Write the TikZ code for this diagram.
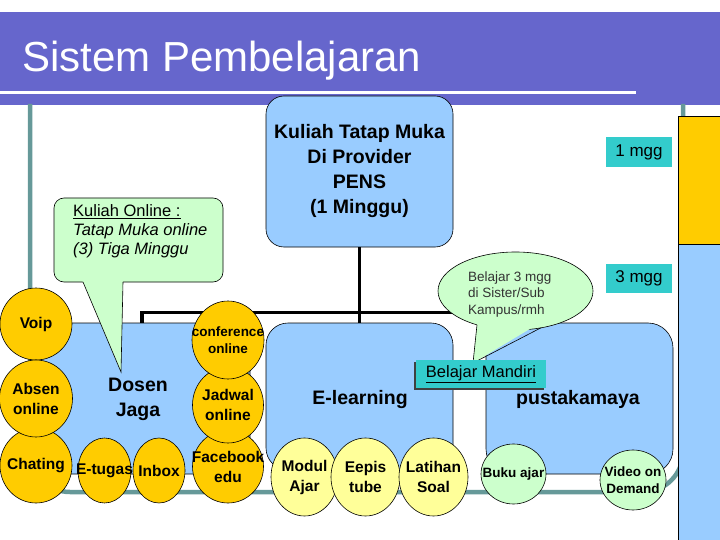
\documentclass[tikz,border=0pt]{standalone}
\usepackage{fontspec}
\setmainfont{Liberation Sans}
\usetikzlibrary{shapes.geometric}
\definecolor{bandc}{HTML}{6666CC}
\definecolor{framec}{HTML}{669999}
\definecolor{lblue}{HTML}{99CCFF}
\definecolor{orng}{HTML}{FFCC00}
\definecolor{lgreen}{HTML}{CCFFCC}
\definecolor{lyel}{HTML}{FFFF99}
\definecolor{tealc}{HTML}{33CCCC}
\tikzset{
  conn/.style={line width=3.4pt, black},
  panelbox/.style={draw=black, line width=0.6pt, fill=lblue, rounded corners=22pt, inner sep=0},
  bub/.style={ellipse, draw=black, line width=0.6pt, inner sep=0},
  bigtxt/.style={font=\bfseries\fontsize{19.5}{25}\selectfont, align=center, inner sep=0},
  midtxt/.style={font=\bfseries\fontsize{15.5}{20}\selectfont, align=center, inner sep=0},
  smalltxt/.style={font=\bfseries\fontsize{13.5}{16.5}\selectfont, align=center, inner sep=0},
  tagbox/.style={fill=tealc, inner sep=0, font=\fontsize{17}{17}\selectfont}
}
\newcommand\mybub[7]{%
  \node[bub, fill=#5, minimum width=#3pt, minimum height=#4pt] (#1) at (#2) {};
  \node[#6] (#1t) at (#1.center) {#7};}
\begin{document}
\begin{tikzpicture}[x=1pt,y=-1pt]
\useasboundingbox (0,0) rectangle (720,540);
\fill[white] (0,0) rectangle (720,540);
% title band
\fill[bandc] (0,12) rectangle (720,105);
\draw[white, line width=3pt] (0,93) -- (636,93);
\node[anchor=base west, inner sep=0, text=white, font=\fontsize{42}{42}\selectfont] (title) at (22,72) {Sistem Pembelajaran};
% slide frame
\draw[framec, line width=4.5pt, rounded corners=40pt] (30,104) -- (30,492) -- (683,492) -- (683,104);
% right bar
\fill[orng] (678,116) rectangle (721,244);
\fill[lblue] (678,244) rectangle (721,541);
\draw[line width=0.8pt] (721,116) -- (678,116) -- (678,541);
\draw[line width=0.5pt] (678,244) -- (721,244);
% top box
\node[panelbox, rounded corners=18pt, minimum width=187pt, minimum height=151pt, bigtxt] (top) at (359.5,171.5) {Kuliah Tatap Muka\\Di Provider\\PENS\\(1 Minggu)};
% panels
\node[panelbox, minimum width=216pt, minimum height=151pt] (dosen) at (142,398.5) {};
\node[panelbox, minimum width=187pt, minimum height=147pt] (elearn) at (359.5,396.5) {};
\node[panelbox, rounded corners=25pt, minimum width=187pt, minimum height=151pt] (pusta) at (579.5,398.5) {};
\node[bigtxt] (dosent) at (138,399.5) {Dosen\\Jaga};
\node[bigtxt] (elearnt) at (360,399) {E-learning};
\node[bigtxt] (pustat) at (578,399) {pustakamaya};
% connectors
\coordinate (pdrop) at (540,323);
\draw[conn] (top.south) -- (elearn.north);
\draw[conn] (dosen.north) -- ++(0,-10) -| (pdrop);
% orange bubbles
\mybub{voip}{36,324}{72}{72}{orng}{midtxt}{Voip}
\mybub{chating}{36,465.5}{72}{75}{orng}{midtxt}{Chating}
\mybub{absen}{36,398.5}{73}{77}{orng}{midtxt}{Absen\\online}
\mybub{etugas}{104.5,470.5}{53}{65}{orng}{midtxt}{E-tugas}
\mybub{inbox}{159,470.5}{52}{65}{orng}{midtxt}{Inbox}
\mybub{fb}{228,466.5}{71}{73}{orng}{midtxt}{Facebook\\edu}
\mybub{jadwal}{228,405}{71}{76}{orng}{midtxt}{Jadwal\\online}
\mybub{conf}{228,340}{72}{78}{orng}{smalltxt}{conference\\online}
% yellow bubbles
\mybub{modul}{304.5,477}{67}{78}{lyel}{midtxt}{Modul\\Ajar}
\mybub{eepis}{365.5,477}{69}{78}{lyel}{midtxt}{Eepis\\tube}
\mybub{latihan}{433.5,477}{69}{78}{lyel}{midtxt}{Latihan\\Soal}
% green bubbles
\mybub{buku}{513.5,474}{65}{60}{lgreen}{smalltxt}{Buku ajar}
\mybub{video}{633,480}{66}{60}{lgreen}{smalltxt}{Video on\\Demand}
% left callout
\node[draw=black, line width=0.6pt, fill=lgreen, rounded corners=10pt, minimum width=169pt, minimum height=84pt, inner sep=0] (kol) at (138.5,240) {};
\fill[lgreen] (80.5,276) -- (121,372) -- (123,276) -- cycle;
\draw[line width=0.6pt] (83,282) -- (121,372) -- (123,282);
\node[anchor=west, align=left, inner sep=0, font=\fontsize{16.5}{19}\selectfont] (kolt) at (73,231) {\underline{Kuliah Online :}\\{\itshape Tatap Muka online}\\{\itshape (3) Tiga Minggu}};
% Belajar callout
\node[bub, fill=lgreen, minimum width=155pt, minimum height=78pt] (bel) at (515.5,291) {};
\fill[lgreen] (477.4,320) -- (473,363) -- (541.5,322) -- cycle;
\draw[line width=0.6pt] (477,324.8) -- (473,363) -- (541,327.8);
\node[anchor=west, align=left, inner sep=0, text=black!80, font=\fontsize{13.5}{16.5}\selectfont] (belt) at (468,294.5) {Belajar 3 mgg\\di Sister/Sub\\Kampus/rmh};
% tags
\node[tagbox, minimum width=66pt, minimum height=30pt] (w1) at (639,152) {1 mgg};
\node[tagbox, minimum width=66pt, minimum height=29pt] (w3) at (639,278.5) {3 mgg};
\fill[black!75] (414,362) rectangle (544,390);
\node[fill=tealc, inner sep=0, minimum width=130pt, minimum height=28pt, font=\fontsize{16.5}{16.5}\selectfont] (mandiri) at (481,374) {\underline{Belajar Mandiri}};
\end{tikzpicture}
\end{document}
